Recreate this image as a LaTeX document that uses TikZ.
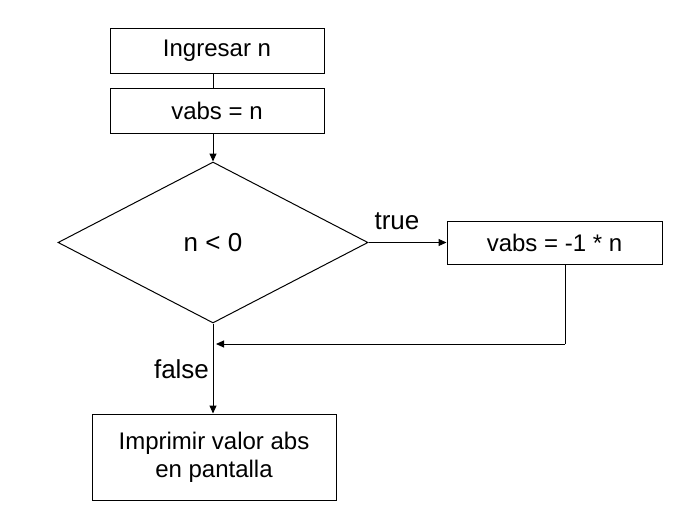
\documentclass[tikz,border=0pt]{standalone}
\usepackage{fontspec}
\setmainfont{Liberation Sans}
\usetikzlibrary{shapes.geometric,arrows.meta}
\begin{document}
\begin{tikzpicture}[x=1pt,y=-1pt,
  box/.style={draw,line width=1pt,inner sep=0pt,font=\fontsize{24}{28}\selectfont,align=center},
  lbl/.style={inner sep=0pt,font=\fontsize{26}{30}\selectfont},
  conn/.style={line width=1pt},
  arr/.style={line width=1pt,-{Triangle[length=8pt,width=7pt]}}]
\useasboundingbox (0,0) rectangle (690,522);
\node[box,minimum width=214pt,minimum height=45pt] (in1) at (217,50.5) {Ingresar n};
\node[box,minimum width=214pt,minimum height=45pt] (v1) at (217,110.5) {vabs = n};
\node[draw,line width=1pt,diamond,inner sep=0pt,minimum width=310pt,minimum height=161pt,font=\fontsize{26}{30}\selectfont] (d) at (213,242.5) {n < 0};
\node[box,minimum width=215pt,minimum height=43pt] (v2) at (554.5,242.5) {vabs = -1 * n};
\node[box,minimum width=244pt,minimum height=86pt] (out) at (214,457) {Imprimir valor abs\\en pantalla};
\node[lbl] (tl) at (397,221) {true};
\node[lbl] (fl) at (181.5,369) {false};
\coordinate (r) at (565,344);
\coordinate (m) at (213,344);
\draw[conn] (d.north |- in1.south) -- (d.north |- v1.north);
\draw[arr] (d.north |- v1.south) -- (d.north);
\draw[arr] (d.east) -- (v2.west);
\draw[conn] (v2.south -| r) -- (r);
\draw[arr,shorten >=3pt] (r) -- (m);
\draw[arr] (d.south) -- (out.north -| d.south);
\end{tikzpicture}
\end{document}
